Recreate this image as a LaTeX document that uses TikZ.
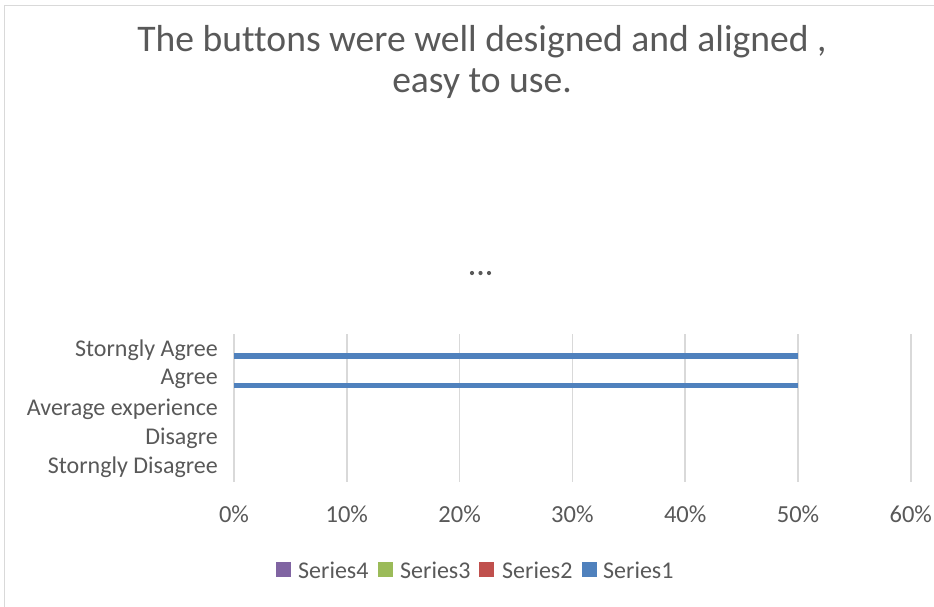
\documentclass[tikz,border=0pt]{standalone}
\usepackage{fontspec}
\setmainfont{Carlito}[Ligatures=NoCommon]
\definecolor{txtgray}{HTML}{595959}
\definecolor{gridgray}{HTML}{D9D9D9}
\definecolor{frame}{HTML}{D9D9D9}
\definecolor{sOne}{HTML}{4F81BD}
\definecolor{sTwo}{HTML}{C0504D}
\definecolor{sThree}{HTML}{9BBB59}
\definecolor{sFour}{HTML}{8064A2}
\tikzset{
  titletext/.style={text=txtgray, font=\fontsize{37.6}{44}\selectfont, inner sep=0pt},
  cattext/.style={text=txtgray, font=\fontsize{24}{28}\selectfont, inner sep=0pt, anchor=east},
  ticktext/.style={text=txtgray, font=\fontsize{24.5}{28}\selectfont, inner sep=0pt},
  legtext/.style={text=txtgray, font=\fontsize{24}{28}\selectfont, inner sep=0pt, anchor=west},
  gridline/.style={draw=gridgray, line width=1.5pt},
  barline/.style={draw=sOne, line width=5.5pt},
  legbox/.style={minimum size=15pt, inner sep=0pt},
}
\begin{document}
\begin{tikzpicture}[x=1pt,y=-1pt]
  \useasboundingbox (0,0) rectangle (934,606);
  \fill[white] (0,0) rectangle (934,606);
  % chart frame
  \draw[frame, line width=1.5pt] (4.5,610) -- (4.5,5.5) -- (940,5.5);

  % title
  \node[titletext] (t1) at (482,42) {The buttons were well designed and aligned ,};
  \node[titletext] (t2) at (482,84) {easy to use.};

  % ellipsis
  \foreach \x in {472,480.5,489} \fill[txtgray] (\x,273) circle (2.1pt);

  % vertical grid lines and tick labels
  \foreach \i/\p in {0/0\%,1/10\%,2/20\%,3/30\%,4/40\%,5/50\%,6/60\%} {
    \coordinate (g\i) at (234+112.8*\i,334);
    \draw[gridline] (g\i) -- ++(0,148);
    \node[ticktext] (tick\i) at (234+112.8*\i,514) {\p};
  }

  % category labels
  \node[cattext] (c5) at (218,350) {Storngly Agree};
  \node[cattext] (c4) at (218,379) {Agree};
  \node[cattext] (c3) at (218,409) {Average experience};
  \node[cattext] (c2) at (218,438) {Disagre};
  \node[cattext] (c1) at (218,467) {Storngly Disagree};

  % Series1 bars
  \coordinate (b5s) at (234,356);
  \coordinate (b5e) at (798,356);
  \coordinate (b4s) at (234,385.5);
  \coordinate (b4e) at (798,385.5);
  \draw[barline] (b5s) -- (b5e);
  \draw[barline] (b4s) -- (b4e);

  % legend
  \node[legbox, fill=sFour]  (k4) at (283,569) {};
  \node[legtext] (l4) at (298,570) {Series4};
  \node[legbox, fill=sThree] (k3) at (385.5,569) {};
  \node[legtext] (l3) at (400,570) {Series3};
  \node[legbox, fill=sTwo]   (k2) at (486.5,569) {};
  \node[legtext] (l2) at (502,570) {Series2};
  \node[legbox, fill=sOne]   (k1) at (589,569) {};
  \node[legtext] (l1) at (603,570) {Series1};
\end{tikzpicture}
\end{document}
